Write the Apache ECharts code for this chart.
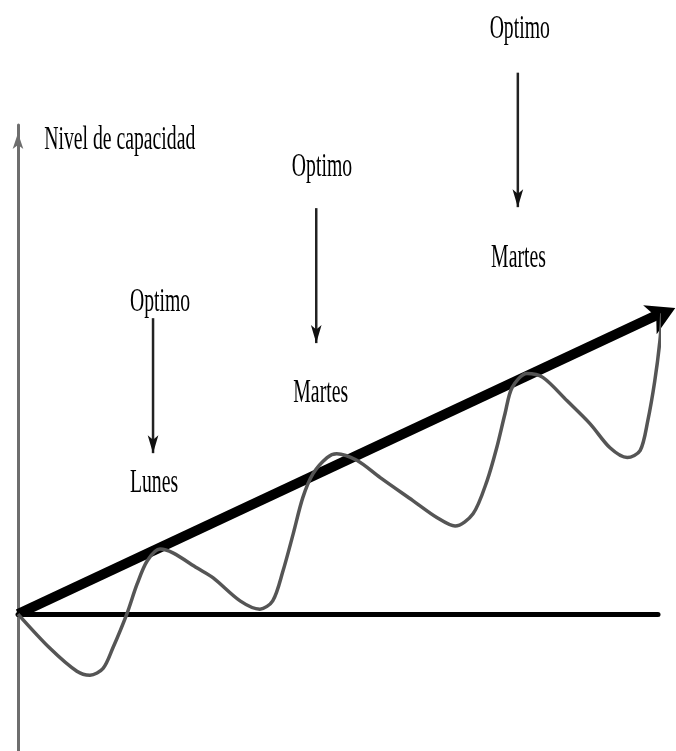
<!DOCTYPE html>
<html><head><meta charset="utf-8">
<script src="https://cdn.jsdelivr.net/npm/echarts@6/dist/echarts.min.js"></script>
<style>html,body{margin:0;padding:0;background:#fff}#c{width:676px;height:751px}</style>
</head><body><div id="c"></div>
<script>
// Capacity wave (time units 0-100, capacity level units)
const waveX = [0,5.0,9.2,11.25,13.3,14.8,17.0,18.6,20.2,22.2,24.2,28.0,30.5,34.7,37.8,39.8,41.4,43.0,44.5,46.1,48.3,49.8,53.0,56.6,61.7,65.5,68.3,71.1,73.3,74.8,76.1,77.2,79.5,82.0,85.8,89.4,92.5,95.2,97.2,98.4,99.5,100.3,100.6];
const waveY = [0,-7.0,-11.7,-12.5,-11.1,-7.0,0,6.1,10.9,13.3,12.5,9.4,7.4,2.7,1.0,2.7,8.8,16.4,23.8,28.7,32.0,32.8,31.4,27.9,23.2,19.7,18.0,20.5,27.3,34.0,41.0,46.3,49.2,48.4,43.6,38.9,34.0,32.0,33.4,39.5,47.7,55.9,61.5];
// Trend arrow (start, shaft end, tip)
const trendStart = [0, 0];
const trendShaftEnd = [100.6, 61.6];
const trendTip = [102.7, 62.6];
// Annotations
const axisTitle = 'Nivel de capacidad';
const axisTitlePos = [15.9, 97.6];
const optimoText = 'Optimo';
const optimoX = [22.2, 47.5, 78.4];
const optimoY = [64.5, 92.0, 120.3];
const dayText = ['Lunes', 'Martes', 'Martes'];
const dayX = [21.25, 47.3, 78.2];
const dayY = [27.3, 45.7, 73.4];
const arrowX = [21.1, 46.6, 78.1];
const arrowTop = [60.5, 83.0, 110.7];
const arrowBottom = [32.9, 55.4, 83.2];

const chart = echarts.init(document.getElementById('c'), null, {renderer: 'canvas'});
const waveData = waveX.map((x, i) => [x, waveY[i]]);

const baseOption = {
  animation: false,
  backgroundColor: '#fff',
  grid: {left: 18, right: 18, top: 125, bottom: 0},
  xAxis: {
    type: 'value', min: 0, max: 100,
    axisLine: {show: true, onZero: true, lineStyle: {color: '#000', width: 5}},
    axisTick: {show: false}, axisLabel: {show: false}, splitLine: {show: false}
  },
  yAxis: {
    type: 'value', min: -28, max: 100,
    axisLine: {show: true, onZero: false, symbol: ['none', 'arrow'], symbolSize: [8, 16],
      symbolOffset: [0, -8],
      lineStyle: {color: '#6e6e6e', width: 3}},
    axisTick: {show: false}, axisLabel: {show: false}, splitLine: {show: false}
  },
  series: []
};
chart.setOption(baseOption);

// rotation of the trend arrowhead from pixel direction
const p0 = chart.convertToPixel({gridIndex: 0}, trendStart);
const p1 = chart.convertToPixel({gridIndex: 0}, trendTip);
const ang = Math.atan2(-(p1[1] - p0[1]), p1[0] - p0[0]) * 180 / Math.PI;

const series = [
  {
    type: 'line', z: 2, clip: false, silent: true, symbol: 'none',
    lineStyle: {color: '#000', width: 10, cap: 'butt'},
    data: [trendStart, trendShaftEnd]
  },
  {
    type: 'scatter', z: 2, clip: false, silent: true,
    symbol: 'arrow', symbolSize: [24, 28], symbolRotate: ang - 90,
    itemStyle: {color: '#000', opacity: 1},
    data: [trendTip]
  }
];
arrowX.forEach((x, i) => {
  series.push({
    type: 'line', z: 2, clip: false, silent: true,
    lineStyle: {color: '#222', width: 2.5},
    itemStyle: {color: '#111'},
    data: [
      {value: [x, arrowTop[i]], symbol: 'none'},
      {value: [x, arrowBottom[i]], symbol: 'arrow', symbolSize: [8, 18], symbolRotate: 180}
    ]
  });
});
series.push({
  type: 'line', data: waveData, z: 3, clip: false, smooth: 0.3,
  symbol: 'none', silent: true,
  lineStyle: {color: '#555', width: 3.5}
});

function txt(text, pos) {
  const p = chart.convertToPixel({gridIndex: 0}, pos);
  return {
    type: 'text', x: p[0], y: p[1] + 3, scaleX: 0.58, silent: true, z: 10,
    style: {text: text, fill: '#000', font: '34px "Liberation Serif", "Times New Roman", serif',
      textAlign: 'center', textVerticalAlign: 'middle'}
  };
}
const g = [txt(axisTitle, axisTitlePos)];
optimoX.forEach((x, i) => g.push(txt(optimoText, [x, optimoY[i]])));
dayX.forEach((x, i) => g.push(txt(dayText[i], [x, dayY[i]])));
chart.setOption({series: series, graphic: g});
</script>
</body></html>
